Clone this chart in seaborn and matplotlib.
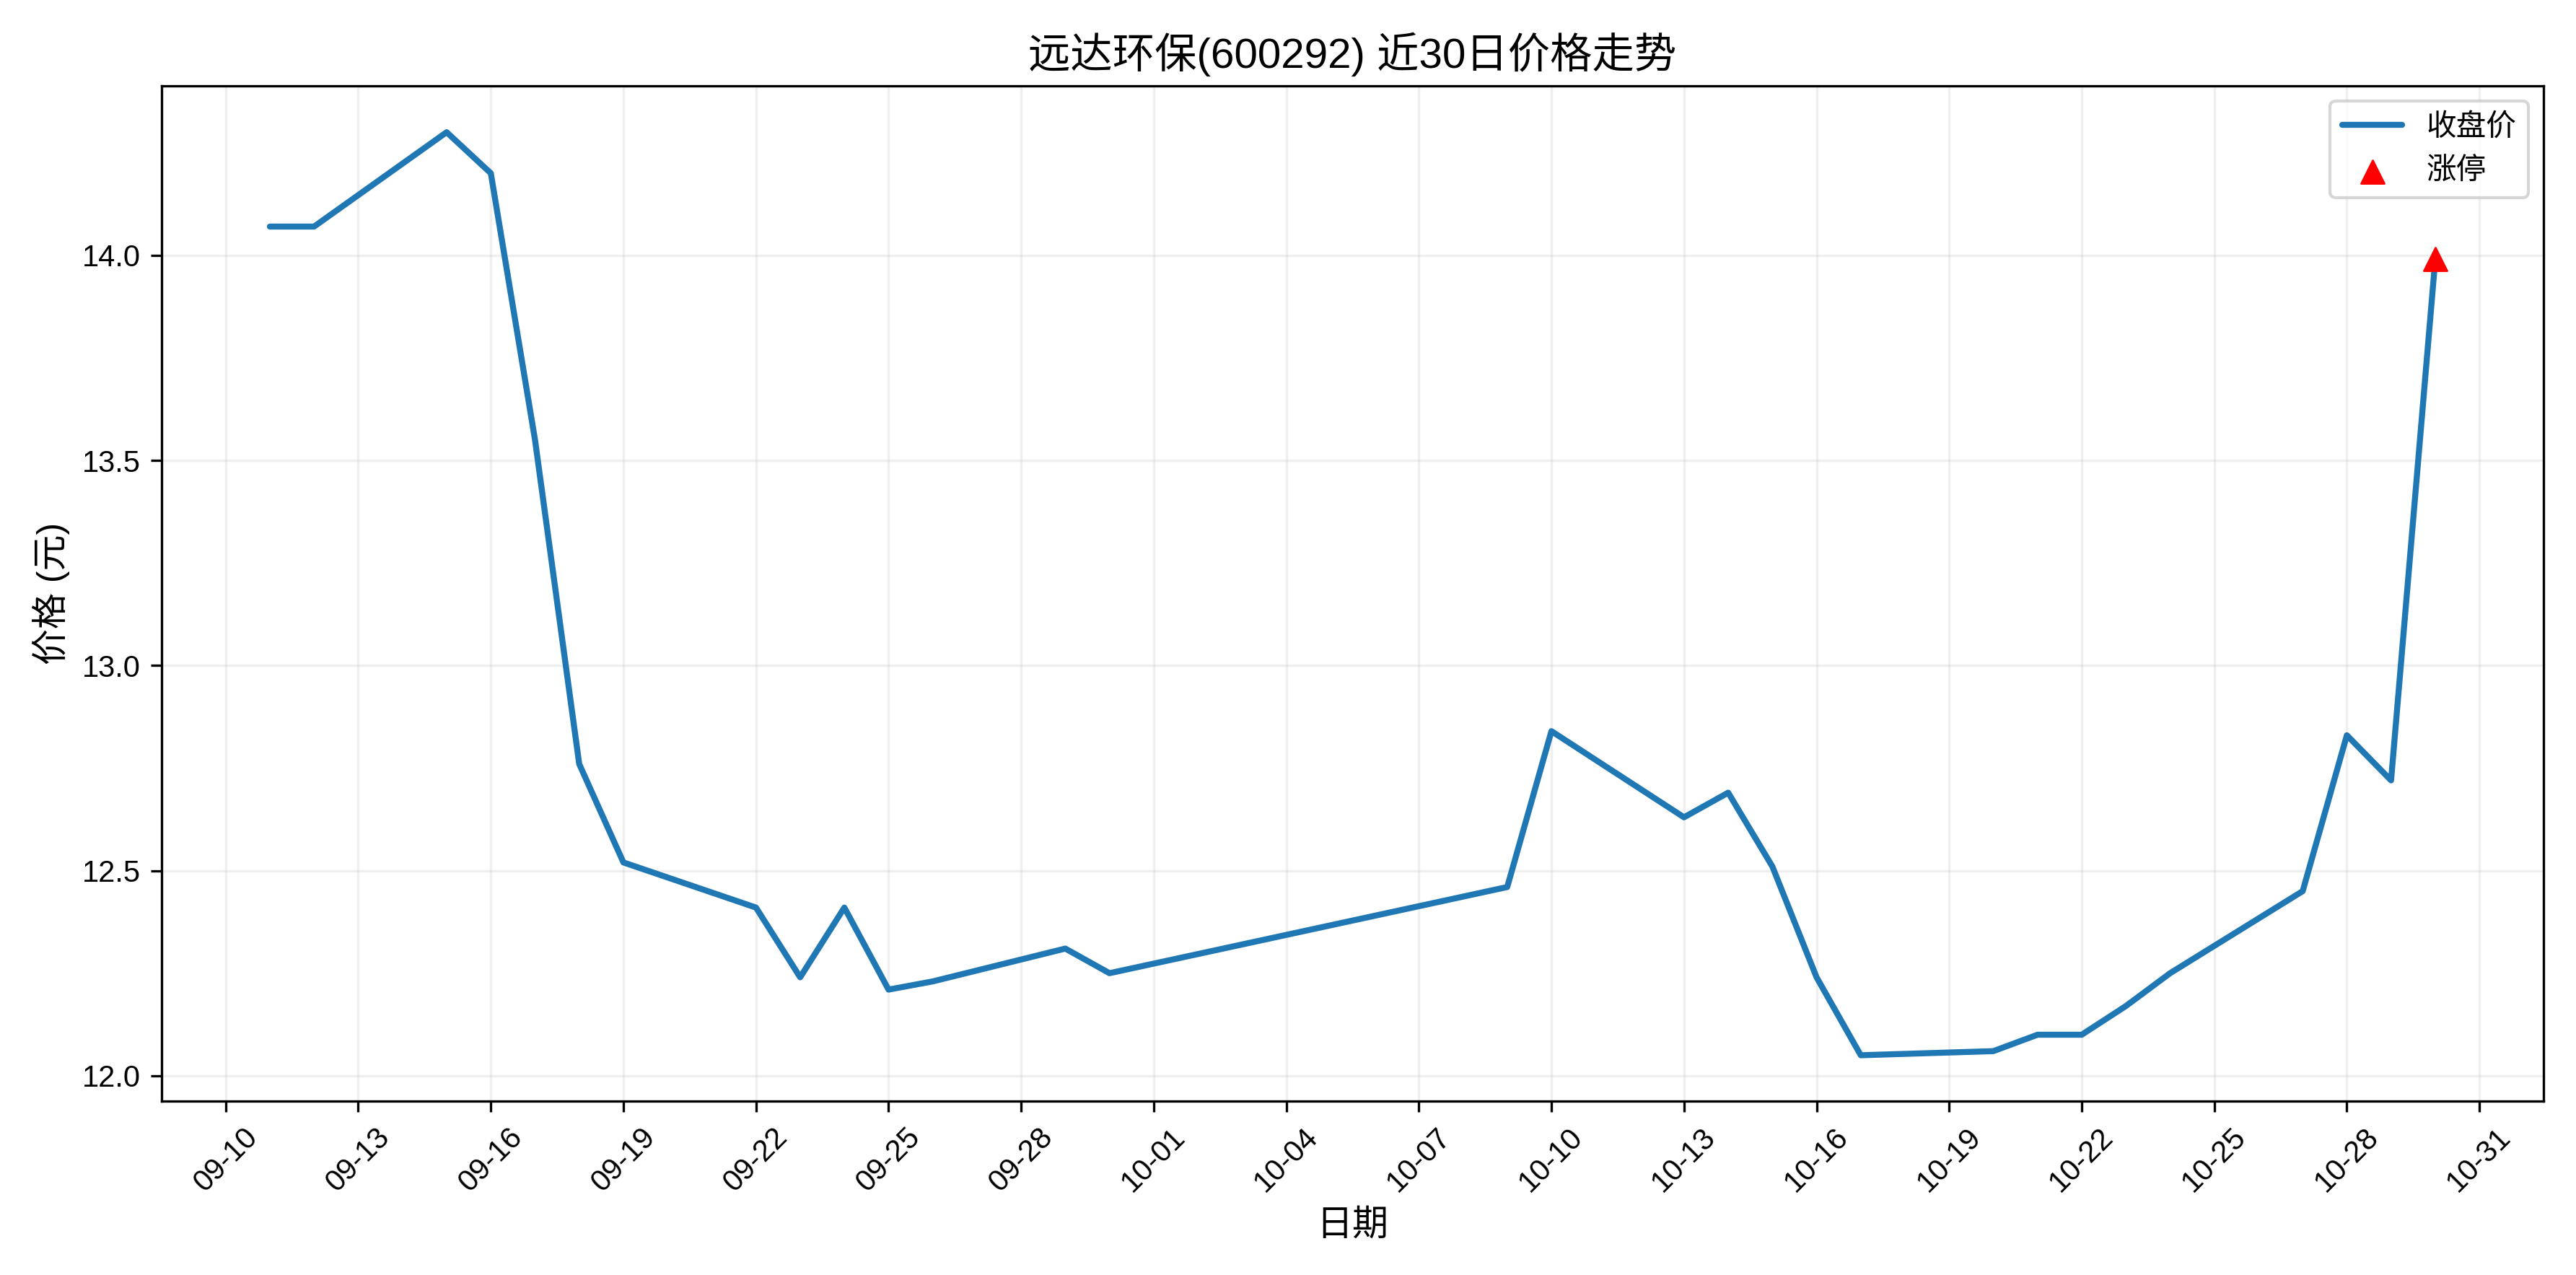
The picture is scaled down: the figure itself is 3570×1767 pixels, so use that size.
import matplotlib
matplotlib.use("Agg")
import matplotlib.pyplot as plt
import matplotlib.dates as mdates
import seaborn as sns
import pandas as pd

dates = ["2025-09-11","2025-09-12","2025-09-15","2025-09-16","2025-09-17","2025-09-18","2025-09-19",
         "2025-09-22","2025-09-23","2025-09-24","2025-09-25","2025-09-26","2025-09-29","2025-09-30",
         "2025-10-09","2025-10-10","2025-10-13","2025-10-14","2025-10-15","2025-10-16","2025-10-17",
         "2025-10-20","2025-10-21","2025-10-22","2025-10-23","2025-10-24","2025-10-27","2025-10-28",
         "2025-10-29","2025-10-30"]
close = [14.07,14.07,14.30,14.20,13.55,12.76,12.52,
         12.41,12.24,12.41,12.21,12.23,12.31,12.25,
         12.46,12.84,12.63,12.69,12.51,12.24,12.05,
         12.06,12.10,12.10,12.17,12.25,12.45,12.83,
         12.72,13.99]
limit_dates = ["2025-10-30"]
limit_prices = [13.99]

sns.set_style("white")
plt.rcParams['font.family'] = ['Liberation Sans', 'Noto Sans CJK SC', 'DejaVu Sans']
plt.rcParams['axes.unicode_minus'] = False
for k in ["text.color", "axes.labelcolor", "xtick.color", "ytick.color"]:
    plt.rcParams[k] = "black"

df = pd.DataFrame({"date": pd.to_datetime(dates), "close": close})
lim = pd.DataFrame({"date": pd.to_datetime(limit_dates), "price": limit_prices})

fig, ax = plt.subplots(figsize=(11.9, 5.89), dpi=300)
sns.lineplot(data=df, x="date", y="close", ax=ax, color="#1f77b4", linewidth=2, label="收盘价")
sns.scatterplot(data=lim, x="date", y="price", ax=ax, color="red", marker="^", s=60,
                edgecolor="red", label="涨停", zorder=5)
ax.set_xticks(pd.date_range("2025-09-10", "2025-10-31", freq="3D"))
ax.xaxis.set_major_formatter(mdates.DateFormatter("%m-%d"))
plt.setp(ax.get_xticklabels(), rotation=45)
ax.grid(True, alpha=0.3)
for s in ax.spines.values():
    s.set_color("black"); s.set_linewidth(0.8)
ax.tick_params(axis="both", which="major", length=3.5, width=0.8, direction="out",
               bottom=True, left=True, labelsize=10, colors="black")
ax.set_title("远达环保(600292) 近30日价格走势", fontsize=14)
ax.set_xlabel("日期", fontsize=12)
ax.set_ylabel("价格 (元)", fontsize=12)
ax.legend(loc="upper right", fontsize=10)
fig.tight_layout()
fig.savefig("out.png", dpi=300)
